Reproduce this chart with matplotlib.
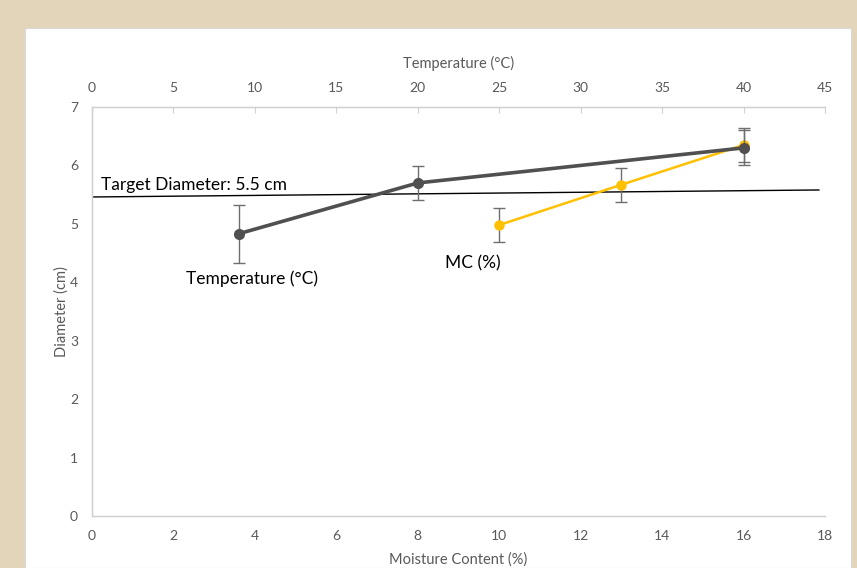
import matplotlib
matplotlib.use("Agg")
import matplotlib.pyplot as plt
from matplotlib.patches import Rectangle

# Data
temp_x = [9, 20, 40]
temp_y = [4.83, 5.70, 6.30]
temp_err = [0.50, 0.29, 0.30]

mc_x = [10, 13, 16]
mc_y = [4.98, 5.67, 6.35]
mc_err = [0.29, 0.29, 0.29]

target_x = [0, 17.85]
target_y = [5.46, 5.58]

plt.rcParams['font.family'] = ['Lato', 'DejaVu Sans']

W, H = 857, 568
fig = plt.figure(figsize=(W / 100, H / 100), dpi=100)
fig.patch.set_facecolor('#E3D5B9')
fig.patches.append(Rectangle((25 / W, 0), (851 - 25) / W, (H - 28) / H,
                             transform=fig.transFigure, facecolor='white',
                             edgecolor='#D9D9D9', linewidth=0.8, zorder=-10))

ax = fig.add_axes([92 / W, (H - 516) / H, (825 - 92) / W, (516 - 107) / H])
ax.set_facecolor('none')
ax2 = ax.twiny()

tick_col = '#595959'
spine_col = '#D0D0D0'

# bottom axis (MC)
ax.set_xlim(0, 18)
ax.set_ylim(0, 7)
ax.set_xticks(range(0, 19, 2))
ax.set_yticks(range(0, 8))
ax.tick_params(axis='x', length=0, pad=10, labelsize=10, labelcolor=tick_col)
ax.tick_params(axis='y', length=0, pad=10, labelsize=10, labelcolor=tick_col)
ax.set_xlabel('Moisture Content (%)', fontsize=10.5, color=tick_col, labelpad=7.5)
ax.set_ylabel('Diameter (cm)', fontsize=10.5, color=tick_col, labelpad=1)
ax.spines['right'].set_visible(False)
for s in ['left', 'bottom', 'top']:
    ax.spines[s].set_color(spine_col)
    ax.spines[s].set_linewidth(1.0)

# top axis (Temperature)
ax2.set_xlim(0, 45)
ax2.set_xticks(range(0, 46, 5))
ax2.tick_params(axis='x', direction='in', length=4, width=0.8, color=spine_col,
                pad=9, labelsize=10, labelcolor=tick_col)
ax2.set_xlabel('Temperature (°C)', fontsize=10.5, color=tick_col, labelpad=10.5)
ax2.spines['right'].set_visible(False)
for s in ['left', 'bottom', 'top']:
    ax2.spines[s].set_color(spine_col)

# target line
ax.plot(target_x, target_y, color='black', linewidth=1.0, zorder=2)
ax.text(0.22, 5.66, 'Target Diameter: 5.5 cm', fontsize=12.5, color='black',
        ha='left', va='center')

# MC series
ax.errorbar(mc_x, mc_y, yerr=mc_err, color='#FFC000', linewidth=1.8,
            marker='o', markersize=6.5, ecolor='#6E6E6E', elinewidth=1.0,
            capsize=4, capthick=1.0, zorder=3)

# Temperature series
ax2.errorbar(temp_x, temp_y, yerr=temp_err, color='#505050', linewidth=2.6,
             marker='o', markersize=7, ecolor='#6E6E6E', elinewidth=1.0,
             capsize=4, capthick=1.0, zorder=4)

ax2.text(9.8, 4.06, 'Temperature (°C)', fontsize=12.5, color='black',
         ha='center', va='center')
ax.text(9.35, 4.33, 'MC (%)', fontsize=12.5, color='black',
        ha='center', va='center')

fig.savefig('out.png', dpi=100)
